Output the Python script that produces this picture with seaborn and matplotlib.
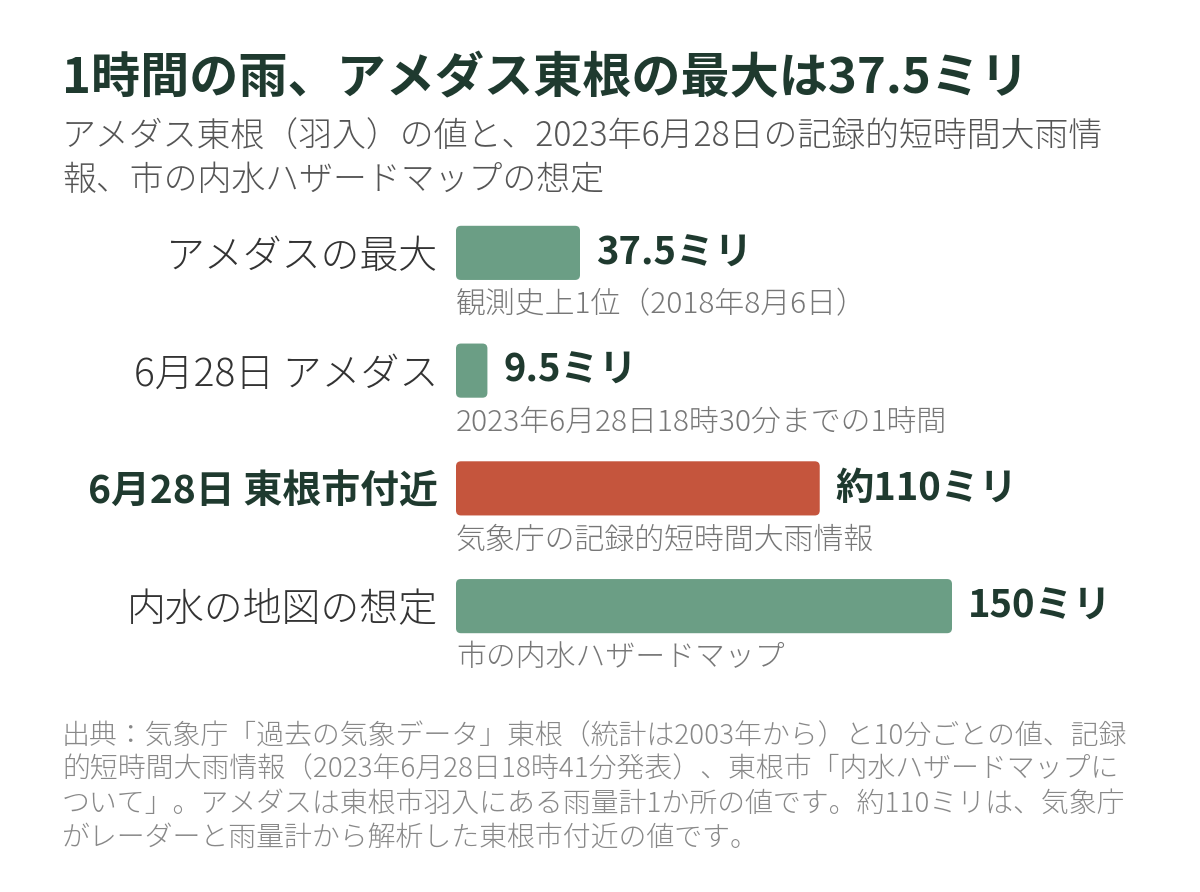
import pandas as pd
import seaborn as sns
import matplotlib.pyplot as plt
from matplotlib.patches import FancyBboxPatch

# ========================== DATA ==========================
categories = ['アメダスの最大', '6月28日 アメダス', '6月28日 東根市付近', '内水の地図の想定']
values = [37.5, 9.5, 110, 150]
value_labels = ['37.5ミリ', '9.5ミリ', '約110ミリ', '150ミリ']
notes = ['観測史上1位（2018年8月6日）',
         '2023年6月28日18時30分までの1時間',
         '気象庁の記録的短時間大雨情報',
         '市の内水ハザードマップ']
highlight = [False, False, True, False]

title = '1時間の雨、アメダス東根の最大は37.5ミリ'
subtitle = ['アメダス東根（羽入）の値と、2023年6月28日の記録的短時間大雨情',
            '報、市の内水ハザードマップの想定']
source = ['出典：気象庁「過去の気象データ」東根（統計は2003年から）と10分ごとの値、記録',
          '的短時間大雨情報（2023年6月28日18時41分発表）、東根市「内水ハザードマップに',
          'ついて」。アメダスは東根市羽入にある雨量計1か所の値です。約110ミリは、気象庁',
          'がレーダーと雨量計から解析した東根市付近の値です。']

df = pd.DataFrame({'category': categories, 'value': values})

# ========================== STYLE ==========================
sns.set_theme(style='white')
plt.rcParams['font.family'] = ['Noto Sans CJK JP', 'DejaVu Sans']

GREEN = '#6b9e85'
RED = '#c5553d'
DARK = '#1f3a2f'
LIGHT = 'light'

palette = [RED if h else GREEN for h in highlight]

fig = plt.figure(figsize=(12, 8.92), dpi=100)
W, H = 1200, 892

# axes: x from 456px, 150 units = 496px ; rows 117.7px apart
ax = fig.add_axes([456 / W, 1 - 665 / H, 496 / W, 471 / H])
sns.barplot(data=df, x='value', y='category', hue='category', palette=palette,
            legend=False, width=0.46, ax=ax, saturation=1)
ax.set_xlim(0, 150)
ax.set_ylim(3.5, -0.5)

# rounded bars
for bar, c in zip(list(ax.patches), palette):
    x0, y0 = bar.get_x(), bar.get_y()
    w, h = bar.get_width(), bar.get_height()
    bar.remove()
    rb = FancyBboxPatch((x0, y0), w, h, boxstyle='round,pad=0,rounding_size=1.5',
                        mutation_aspect=0.028, facecolor=c, edgecolor='none')
    ax.add_patch(rb)

ax.set_xlabel('')
ax.set_ylabel('')
ax.set_xticks([])
ax.tick_params(axis='y', length=0, pad=13)
ax.set_yticks(range(len(categories)))
ax.set_yticklabels(categories, fontsize=28)
for lbl, h in zip(ax.get_yticklabels(), highlight):
    if h:
        lbl.set_fontweight('bold')
        lbl.set_color(DARK)
    else:
        lbl.set_fontweight(LIGHT)
        lbl.set_color('#333333')
sns.despine(ax=ax, left=True, bottom=True)

for i, (v, vl, nt) in enumerate(zip(values, value_labels, notes)):
    ax.annotate(vl, (v, i), xytext=(11.5, 0), textcoords='offset points',
                ha='left', va='center', fontsize=27.5, fontweight='bold', color=DARK)
    ax.annotate(nt, (0, i), xytext=(0, -37.5), textcoords='offset points',
                ha='left', va='center', fontsize=21.5, fontweight=LIGHT, color='#777777')

# ========================== TEXT ==========================
fig.text(62 / W, 1 - 79 / H, title, fontsize=35.4, fontweight='bold', color=DARK,
         ha='left', va='center')
for k, line in enumerate(subtitle):
    fig.text(62 / W, 1 - (137 + 43 * k) / H, line, fontsize=24.4, fontweight=LIGHT,
             color='#555555', ha='left', va='center')
for k, line in enumerate(source):
    fig.text(62 / W, 1 - (736 + 33.8 * k) / H, line, fontsize=20.1, fontweight=LIGHT,
             color='#888888', ha='left', va='center')

plt.savefig('out.png', dpi=100)
